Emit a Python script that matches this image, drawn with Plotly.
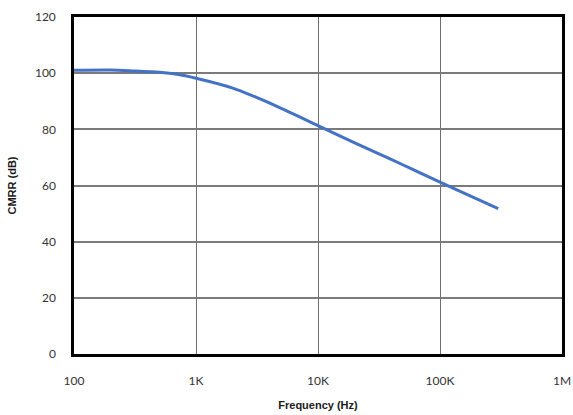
import plotly.graph_objects as go

freq_hz = [100, 200, 300, 500, 700, 1000, 2000, 3000, 5000, 7000,
           10000, 20000, 30000, 50000, 70000, 100000, 200000, 300000]
cmrr_db = [101.0, 101.1, 100.8, 100.3, 99.6, 98.2, 94.7, 91.7,
           87.5, 84.5, 81.3, 75.2, 71.7, 67.3, 64.3, 61.2, 55.2, 51.8]

x_tickvals = [100, 1000, 10000, 100000, 1000000]
x_ticktext = ["100", "1K", "10K", "100K", "1M"]
y_tickvals = [0, 20, 40, 60, 80, 100, 120]

fig = go.Figure()
fig.add_trace(go.Scatter(x=freq_hz, y=cmrr_db, mode="lines",
                         line=dict(color="#4472C4", width=3, shape="spline", smoothing=0.8),
                         showlegend=False, hoverinfo="skip"))

fig.update_layout(
    width=573, height=415,
    margin=dict(l=74, r=11, t=17, b=61),
    paper_bgcolor="white", plot_bgcolor="white",
    font=dict(family="Liberation Sans, Arial, sans-serif", color="#1a1a1a"),
)
fig.update_xaxes(
    type="log", range=[2, 6], automargin=False,
    tickvals=x_tickvals, ticktext=x_ticktext,
    showgrid=True, gridcolor="#6e6e6e", gridwidth=1.2,
    showline=True, linecolor="black", linewidth=2.5, mirror=True,
    ticks="", ticklabelstandoff=14,
    tickfont=dict(size=12, family="Lato, sans-serif", color="#333333"),
    title=dict(text="<b>Frequency (Hz)</b>", font=dict(size=11), standoff=15),
    zeroline=False,
)
fig.update_yaxes(
    range=[0, 120], tickvals=y_tickvals, automargin=False,
    showgrid=True, gridcolor="#7a7a7a", gridwidth=1.6,
    showline=True, linecolor="black", linewidth=2.5, mirror=True,
    ticks="", ticklabelstandoff=13,
    tickfont=dict(size=12, family="Lato, sans-serif", color="#333333"),
    title=dict(text="<b>CMRR (dB)</b>", font=dict(size=11), standoff=17),
    zeroline=False,
)

fig.write_html("out.html")
